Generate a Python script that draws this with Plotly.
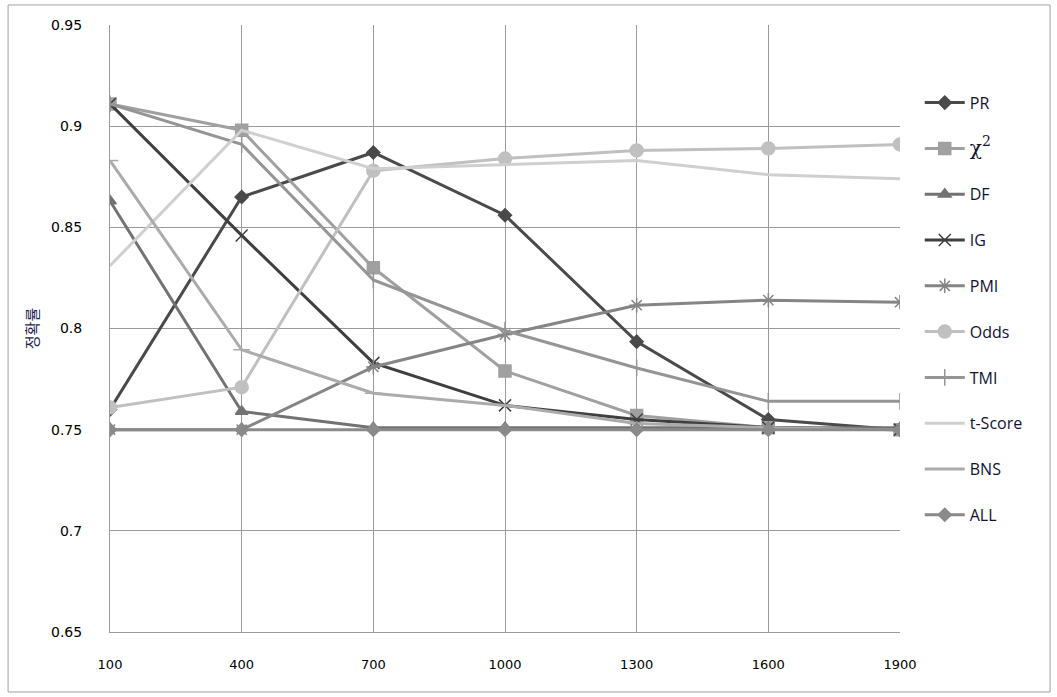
import plotly.graph_objects as go

x_vals = [100, 400, 700, 1000, 1300, 1600, 1900]
tick_labels = ["100", "400", "700", "1000", "1300", "1600", "1900"]

pr = [0.760, 0.865, 0.887, 0.856, 0.7935, 0.755, 0.750]
chi2 = [0.911, 0.898, 0.830, 0.779, 0.757, 0.751, 0.750]
df = [0.863, 0.759, 0.751, 0.751, 0.751, 0.751, 0.751]
ig = [0.911, 0.846, 0.783, 0.762, 0.755, 0.751, 0.750]
pmi = [0.750, 0.750, 0.781, 0.797, 0.8115, 0.814, 0.813]
odds = [0.761, 0.771, 0.878, 0.884, 0.888, 0.889, 0.891]
tmi = [0.911, 0.891, 0.824, 0.799, 0.7805, 0.764, 0.764]
tscore = [0.831, 0.898, 0.879, 0.881, 0.883, 0.876, 0.874]
bns = [0.883, 0.7895, 0.768, 0.762, 0.753, 0.751, 0.750]
all_ = [0.750, 0.750, 0.750, 0.750, 0.750, 0.750, 0.750]

series = [
    ("PR", pr, "#4a4a4a", "diamond", 10),
    ("<span style=\"font-family:'DejaVu Serif';font-size:20px\">χ<sup>2</sup></span>", chi2, "#a0a0a0", "square", 12),
    ("DF", df, "#727272", "triangle-up", 11),
    ("IG", ig, "#3f3f3f", "x-thin-open", 12),
    ("PMI", pmi, "#858585", "asterisk-open", 12),
    ("Odds", odds, "#c0c0c0", "circle", 13),
    ("TMI", tmi, "#959595", "line-ns-open", 12),
    ("t-Score", tscore, "#cfcfcf", "line-ew-open", 1),
    ("BNS", bns, "#ababab", "line-ew-open", 12),
    ("ALL", all_, "#8a8a8a", "diamond", 10),
]

fig = go.Figure()
for i, (name, vals, color, sym, size) in enumerate(series):
    fig.add_trace(go.Scatter(
        x=x_vals, y=vals, name=name, mode="lines+markers",
        line=dict(color=color, width=3),
        marker=dict(symbol=sym, size=size, color=color,
                    line=dict(color=color, width=1.5)),
        legendgroup=f"g{i}",
    ))

fig.update_layout(
    width=1057, height=697,
    margin=dict(l=110, r=157, t=25, b=65),
    paper_bgcolor="white", plot_bgcolor="white",
    font=dict(family="DejaVu Sans", size=13, color="#000000"),
    showlegend=True,
    legend=dict(x=1.025, y=0.9, xanchor="left", yanchor="top",
                font=dict(family="Open Sans", size=16, color="#111133"),
                tracegroupgap=22, itemwidth=40),
    shapes=[dict(type="rect", xref="paper", yref="paper",
                 x0=-0.129, x1=1.19, y0=-0.0988, y1=1.033,
                 line=dict(color="#a0a0a0", width=1), layer="below")],
)
fig.update_xaxes(
    range=[100, 1900], tickvals=x_vals, ticktext=tick_labels,
    showgrid=True, gridcolor="#9a9a9a", gridwidth=1,
    showline=True, linecolor="#9a9a9a", linewidth=1, mirror=False,
    zeroline=False, ticks="", ticklabelstandoff=20,
    tickfont=dict(family="DejaVu Sans", size=13),
)
fig.update_yaxes(
    range=[0.65, 0.95], tickvals=[0.65, 0.7, 0.75, 0.8, 0.85, 0.9, 0.95],
    ticktext=["0.65", "0.7", "0.75", "0.8", "0.85", "0.9", "0.95"],
    showgrid=True, gridcolor="#9a9a9a", gridwidth=1,
    showline=True, linecolor="#9a9a9a", linewidth=1,
    zeroline=False, ticks="", ticklabelstandoff=24,
    tickfont=dict(family="DejaVu Sans", size=14),
    title=dict(text="정확률", font=dict(family="Noto Sans CJK KR", size=15, color="#1a1a50"),
               standoff=8),
)

fig.write_html("out.html")
